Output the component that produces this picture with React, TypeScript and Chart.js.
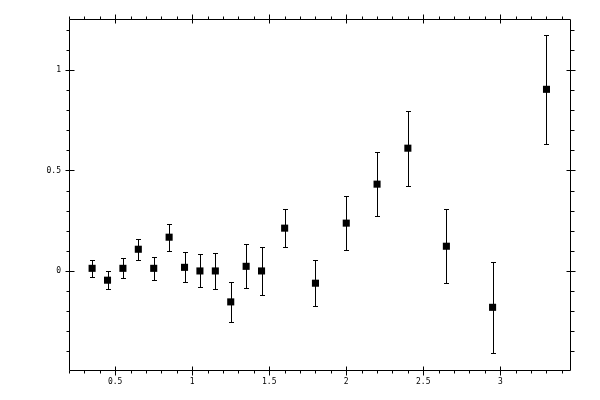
import React, { useEffect, useRef } from "react";
import { Chart, registerables } from "chart.js";

Chart.register(...registerables);

const xValues = [0.35, 0.45, 0.55, 0.65, 0.75, 0.85, 0.95, 1.05, 1.15, 1.25, 1.35, 1.45, 1.6, 1.8, 2.0, 2.2, 2.4, 2.65, 2.95, 3.3];
const yValues = [0.013, -0.046, 0.013, 0.108, 0.013, 0.168, 0.018, 0.0, 0.0, -0.154, 0.023, 0.0, 0.213, -0.061, 0.238, 0.432, 0.611, 0.123, -0.181, 0.904];
const yErrors = [0.042, 0.045, 0.05, 0.053, 0.057, 0.067, 0.075, 0.082, 0.09, 0.1, 0.11, 0.12, 0.095, 0.115, 0.135, 0.16, 0.187, 0.183, 0.227, 0.27];

const xMajorTicks = [0.5, 1, 1.5, 2, 2.5, 3];
const yMajorTicks = [0, 0.5, 1];
const xRange = [0.2, 3.4526];
const yRange = [-0.493, 1.254];
const minorStep = 0.1;

const FONT = "'DejaVu Sans Mono', monospace";

const errorBarPlugin = {
  id: "errorBars",
  beforeDatasetsDraw(chart: any) {
    const ctx = chart.ctx;
    const xs = chart.scales.x;
    const ys = chart.scales.y;
    ctx.save();
    ctx.strokeStyle = "#000";
    ctx.lineWidth = 1;
    xValues.forEach((xv, i) => {
      const px = Math.round(xs.getPixelForValue(xv)) + 0.5;
      const top = Math.round(ys.getPixelForValue(yValues[i] + yErrors[i])) + 0.5;
      const bot = Math.round(ys.getPixelForValue(yValues[i] - yErrors[i])) + 0.5;
      ctx.beginPath();
      ctx.moveTo(px, top);
      ctx.lineTo(px, bot);
      ctx.moveTo(px - 2.5, top);
      ctx.lineTo(px + 2.5, top);
      ctx.moveTo(px - 2.5, bot);
      ctx.lineTo(px + 2.5, bot);
      ctx.stroke();
    });
    ctx.restore();
  },
};

const frameTickPlugin = {
  id: "frameTicks",
  afterDraw(chart: any) {
    const ctx = chart.ctx;
    const xs = chart.scales.x;
    const ys = chart.scales.y;
    const a = chart.chartArea;
    const L = Math.round(a.left) + 0.5;
    const R = Math.round(a.right) + 0.5;
    const T = Math.round(a.top) + 0.5;
    const B = Math.round(a.bottom) + 0.5;
    ctx.save();
    ctx.strokeStyle = "#000";
    ctx.lineWidth = 1;
    ctx.beginPath();
    ctx.rect(L, T, R - L, B - T);
    ctx.stroke();
    ctx.beginPath();
    const isMajor = (v: number, majors: number[]) => majors.some((m) => Math.abs(m - v) < 1e-6);
    const x0 = Math.ceil(xRange[0] / minorStep - 1e-6);
    const x1 = Math.floor(xRange[1] / minorStep + 1e-6);
    for (let k = x0; k <= x1; k++) {
      const v = k * minorStep;
      const px = Math.round(xs.getPixelForValue(v)) + 0.5;
      if (isMajor(v, xMajorTicks)) {
        ctx.moveTo(px, B - 4); ctx.lineTo(px, B + 5);
        ctx.moveTo(px, T - 5); ctx.lineTo(px, T + 4);
      } else {
        ctx.moveTo(px, B); ctx.lineTo(px, B + 3);
        ctx.moveTo(px, T); ctx.lineTo(px, T - 3);
      }
    }
    const y0 = Math.ceil(yRange[0] / minorStep - 1e-6);
    const y1 = Math.floor(yRange[1] / minorStep + 1e-6);
    for (let k = y0; k <= y1; k++) {
      const v = k * minorStep;
      const py = Math.round(ys.getPixelForValue(v)) + 0.5;
      if (isMajor(v, [-0.5, ...yMajorTicks])) {
        ctx.moveTo(L - 4, py); ctx.lineTo(L + 5, py);
        ctx.moveTo(R - 4, py); ctx.lineTo(R + 5, py);
      } else {
        ctx.moveTo(L, py); ctx.lineTo(L - 3, py);
        ctx.moveTo(R, py); ctx.lineTo(R + 4, py);
      }
    }
    ctx.stroke();
    ctx.restore();
  },
};

export default function App() {
  const ref = useRef<HTMLCanvasElement | null>(null);
  useEffect(() => {
    if (!ref.current) return;
    const chart = new Chart(ref.current, {
      type: "scatter",
      data: {
        datasets: [
          {
            data: xValues.map((x, i) => ({ x, y: yValues[i] })),
            pointStyle: "rect",
            pointRadius: 5,
            pointHoverRadius: 5,
            backgroundColor: "#000",
            borderColor: "#000",
            borderWidth: 0,
          },
        ],
      },
      options: {
        animation: false,
        responsive: false,
        devicePixelRatio: 1,
        events: [],
        layout: { padding: { top: 19, right: 30, left: 0, bottom: 0 } },
        plugins: { legend: { display: false }, tooltip: { enabled: false } },
        scales: {
          x: {
            type: "linear",
            min: xRange[0],
            max: xRange[1],
            grid: { display: false, drawTicks: false },
            border: { display: false },
            afterBuildTicks: (s: any) => {
              s.ticks = xMajorTicks.map((v) => ({ value: v }));
            },
            afterFit: (s: any) => {
              s.height = 30;
            },
            ticks: {
              autoSkip: false,
              maxRotation: 0,
              padding: 7,
              color: "#000",
              font: { family: FONT, size: 8 },
              callback: (v: any) => String(v),
            },
          },
          y: {
            type: "linear",
            min: yRange[0],
            max: yRange[1],
            grid: { display: false, drawTicks: false },
            border: { display: false },
            afterBuildTicks: (s: any) => {
              s.ticks = yMajorTicks.map((v) => ({ value: v }));
            },
            afterFit: (s: any) => {
              s.width = 69;
            },
            ticks: {
              autoSkip: false,
              padding: 8,
              color: "#000",
              font: { family: FONT, size: 8 },
              callback: (v: any) => String(v),
            },
          },
        },
      },
      plugins: [errorBarPlugin, frameTickPlugin],
    });
    return () => chart.destroy();
  }, []);
  return (
    <div style={{ position: "absolute", left: 0, top: 0, width: 600, height: 400, background: "#fff" }}>
      <canvas ref={ref} width={600} height={400} />
    </div>
  );
}
